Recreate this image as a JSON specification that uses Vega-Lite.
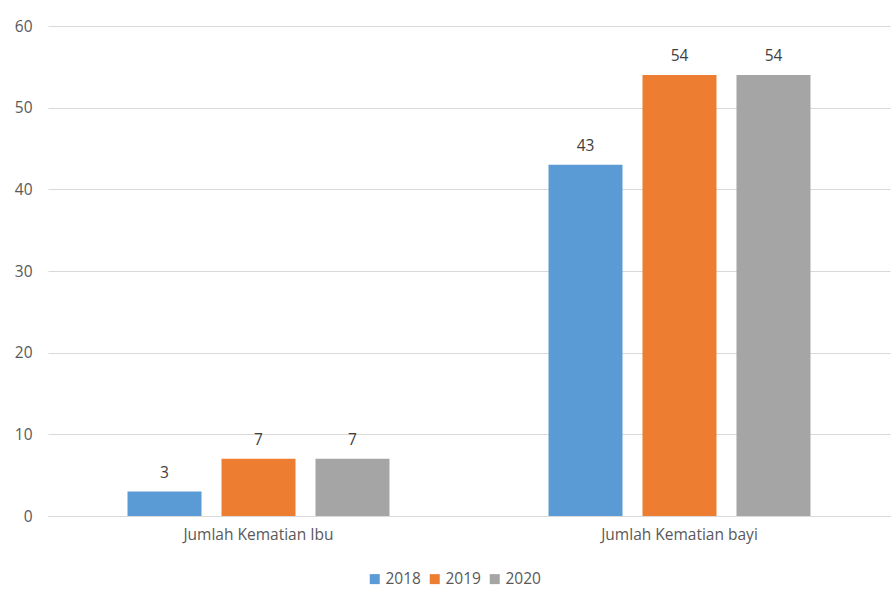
{
  "$schema": "https://vega.github.io/schema/vega-lite/v6.json",
  "width": 842,
  "height": 490,
  "autosize": {"type": "none"},
  "padding": {"left": 48, "top": 26, "right": 4, "bottom": 88},
  "background": "white",
  "config": {
    "view": {"stroke": null},
    "font": "Open Sans"
  },
  "data": {
    "values": [
      {"kategori": "Jumlah Kematian Ibu", "tahun": "2018", "nilai": 3},
      {"kategori": "Jumlah Kematian Ibu", "tahun": "2019", "nilai": 7},
      {"kategori": "Jumlah Kematian Ibu", "tahun": "2020", "nilai": 7},
      {"kategori": "Jumlah Kematian bayi", "tahun": "2018", "nilai": 43},
      {"kategori": "Jumlah Kematian bayi", "tahun": "2019", "nilai": 54},
      {"kategori": "Jumlah Kematian bayi", "tahun": "2020", "nilai": 54}
    ]
  },
  "encoding": {
    "x": {
      "field": "kategori",
      "type": "nominal",
      "sort": null,
      "scale": {"paddingInner": 0, "paddingOuter": 0},
      "axis": {
        "title": null,
        "labelAngle": 0,
        "domain": true,
        "domainColor": "#d9d9d9",
        "ticks": false,
        "labelFontSize": 15.5,
        "labelColor": "#595959",
        "labelPadding": 11
      }
    },
    "xOffset": {
      "field": "tahun",
      "type": "nominal",
      "scale": {"paddingInner": 0.2128, "paddingOuter": 0.846}
    },
    "y": {
      "field": "nilai",
      "type": "quantitative",
      "scale": {"domain": [0, 60], "nice": false},
      "axis": {
        "title": null,
        "values": [0, 10, 20, 30, 40, 50, 60],
        "domain": false,
        "ticks": false,
        "gridColor": "#d9d9d9",
        "gridWidth": 1,
        "labelFontSize": 15.5,
        "labelColor": "#595959",
        "labelPadding": 16
      }
    }
  },
  "layer": [
    {
      "mark": {"type": "bar"},
      "encoding": {
        "color": {
          "field": "tahun",
          "type": "nominal",
          "scale": {"domain": ["2018", "2019", "2020"], "range": ["#5B9BD5", "#ED7D31", "#A5A5A5"]},
          "legend": {
            "title": null,
            "orient": "none",
            "direction": "horizontal",
            "legendX": 319,
            "legendY": 545,
            "symbolType": "square",
            "symbolSize": 100,
            "symbolStrokeWidth": 0,
            "labelFontSize": 15.5,
            "labelColor": "#595959",
            "columnPadding": 6,
            "labelOffset": 3
          }
        }
      }
    },
    {
      "mark": {"type": "text", "baseline": "bottom", "dy": -11, "fontSize": 15.5, "color": "#404040"},
      "encoding": {
        "text": {"field": "nilai", "type": "quantitative"}
      }
    }
  ]
}
